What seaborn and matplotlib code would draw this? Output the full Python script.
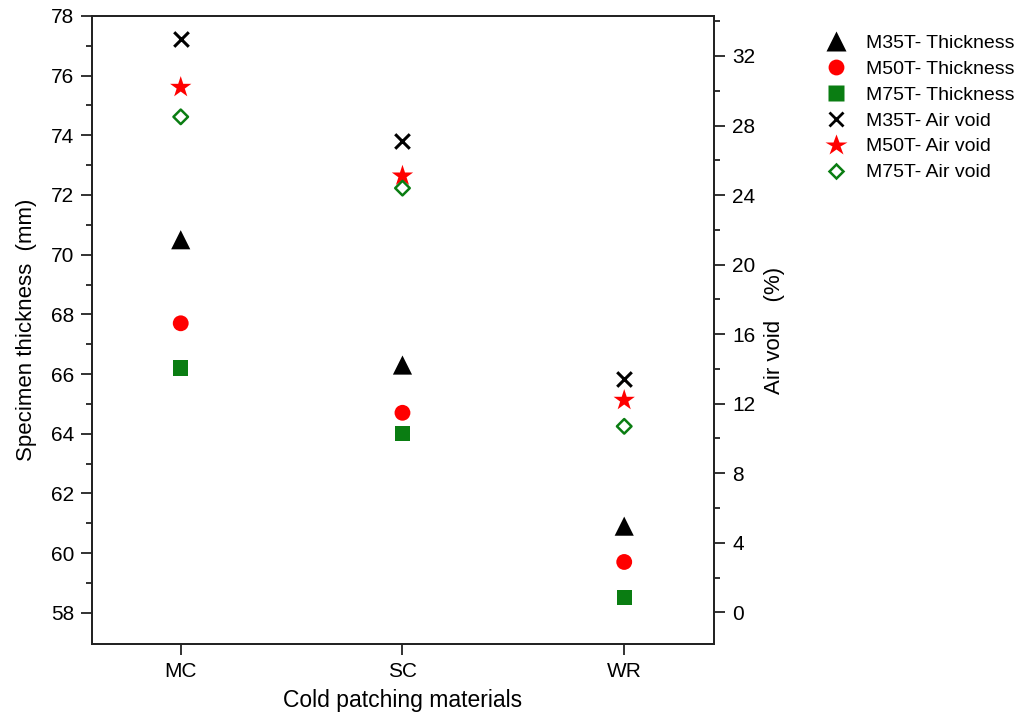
import numpy as np
import pandas as pd
import matplotlib
matplotlib.use("Agg")
import matplotlib.pyplot as plt
import seaborn as sns
from matplotlib.lines import Line2D

categories = ["MC", "SC", "WR"]
m35_thickness = [70.5, 66.3, 60.9]
m50_thickness = [67.7, 64.7, 59.7]
m75_thickness = [66.2, 64.0, 58.5]
m35_airvoid = [33.0, 27.1, 13.4]
m50_airvoid = [30.2, 25.1, 12.2]
m75_airvoid = [28.5, 24.4, 10.7]
left_ticks = [58, 60, 62, 64, 66, 68, 70, 72, 74, 76, 78]
right_ticks = [0, 4, 8, 12, 16, 20, 24, 28, 32]

sns.set_theme(style="ticks")
plt.rcParams["font.family"] = ["Liberation Sans", "DejaVu Sans"]
plt.rcParams["text.color"] = "black"
plt.rcParams["axes.labelcolor"] = "black"
plt.rcParams["xtick.color"] = "black"
plt.rcParams["ytick.color"] = "black"

fig = plt.figure(figsize=(10.18, 7.17), dpi=100)
ax = fig.add_axes([0.0904, 0.1018, 0.6110, 0.8759])
ax2 = ax.twinx()

xpos = np.arange(len(categories))
df = pd.DataFrame({"x": xpos,
                   "m35t": m35_thickness, "m50t": m50_thickness, "m75t": m75_thickness,
                   "m35a": m35_airvoid, "m50a": m50_airvoid, "m75a": m75_airvoid})

green = "#0a7d12"
specs = [
    (ax, "m35t", "M35T- Thickness", dict(marker="^", s=190, color="black", edgecolor="none")),
    (ax, "m50t", "M50T- Thickness", dict(marker="o", s=130, color="#ff0000", edgecolor="none")),
    (ax, "m75t", "M75T- Thickness", dict(marker="s", s=120, color=green, edgecolor="none")),
    (ax2, "m35a", "M35T- Air void", dict(marker="x", s=110, color="black", linewidth=2.2)),
    (ax2, "m50a", "M50T- Air void", dict(marker="*", s=260, color="#ff0000", edgecolor="none")),
    (ax2, "m75a", "M75T- Air void", dict(marker="D", s=55, facecolor="none", edgecolor=green, linewidth=1.8)),
]
handles = []
for a, col, lab, kw in specs:
    sns.scatterplot(data=df, x="x", y=col, ax=a, legend=False, zorder=3, **kw)
    m = kw["marker"]
    if m == "x":
        h = Line2D([], [], linestyle="none", marker="x", color="black", markersize=10, markeredgewidth=2.0)
    elif m == "D":
        h = Line2D([], [], linestyle="none", marker="D", markerfacecolor="none", markeredgecolor=green,
                   markersize=7.4, markeredgewidth=1.8)
    else:
        h = Line2D([], [], linestyle="none", marker=m, color=kw["color"], markeredgecolor="none",
                   markersize=np.sqrt(kw["s"]))
    handles.append((h, lab))

ax.set_xlim(-0.4, 2.405)
ax.set_ylim(56.95, 78)
ax2.set_ylim(-1.82, 34.3)
ax.set_xticks(xpos)
ax.set_xticklabels(categories)
ax.set_yticks(left_ticks)
ax.set_yticks(np.arange(59, 78, 2), minor=True)
ax2.set_yticks(right_ticks)
ax2.set_yticks(np.arange(2, 35, 4), minor=True)

for a in (ax, ax2):
    for sp in a.spines.values():
        sp.set_visible(True)
        sp.set_color("#222222")
        sp.set_linewidth(1.3)
ax.tick_params(axis="both", which="major", direction="out", length=8, width=1.3,
               color="#222222", labelsize=15, pad=5)
ax.tick_params(axis="y", which="minor", direction="out", length=4.5, width=1.3, color="#222222")
ax2.tick_params(axis="y", which="major", direction="out", length=8, width=1.3,
                color="#222222", labelsize=15, pad=5)
ax2.tick_params(axis="y", which="minor", direction="out", length=4.5, width=1.3, color="#222222")

ax.set_xlabel("Cold patching materials", fontsize=16.5, labelpad=6)
ax.set_ylabel("Specimen thickness  (mm)", fontsize=16, labelpad=10)
ax2.set_ylabel("Air void   (%)", fontsize=16, labelpad=6)

fig.legend([h for h, _ in handles], [l for _, l in handles],
           loc="upper left", bbox_to_anchor=(0.793, 0.977), frameon=False,
           fontsize=14, handlelength=1.2, handletextpad=0.9, labelspacing=0.43)

fig.savefig("out.png", dpi=100)
